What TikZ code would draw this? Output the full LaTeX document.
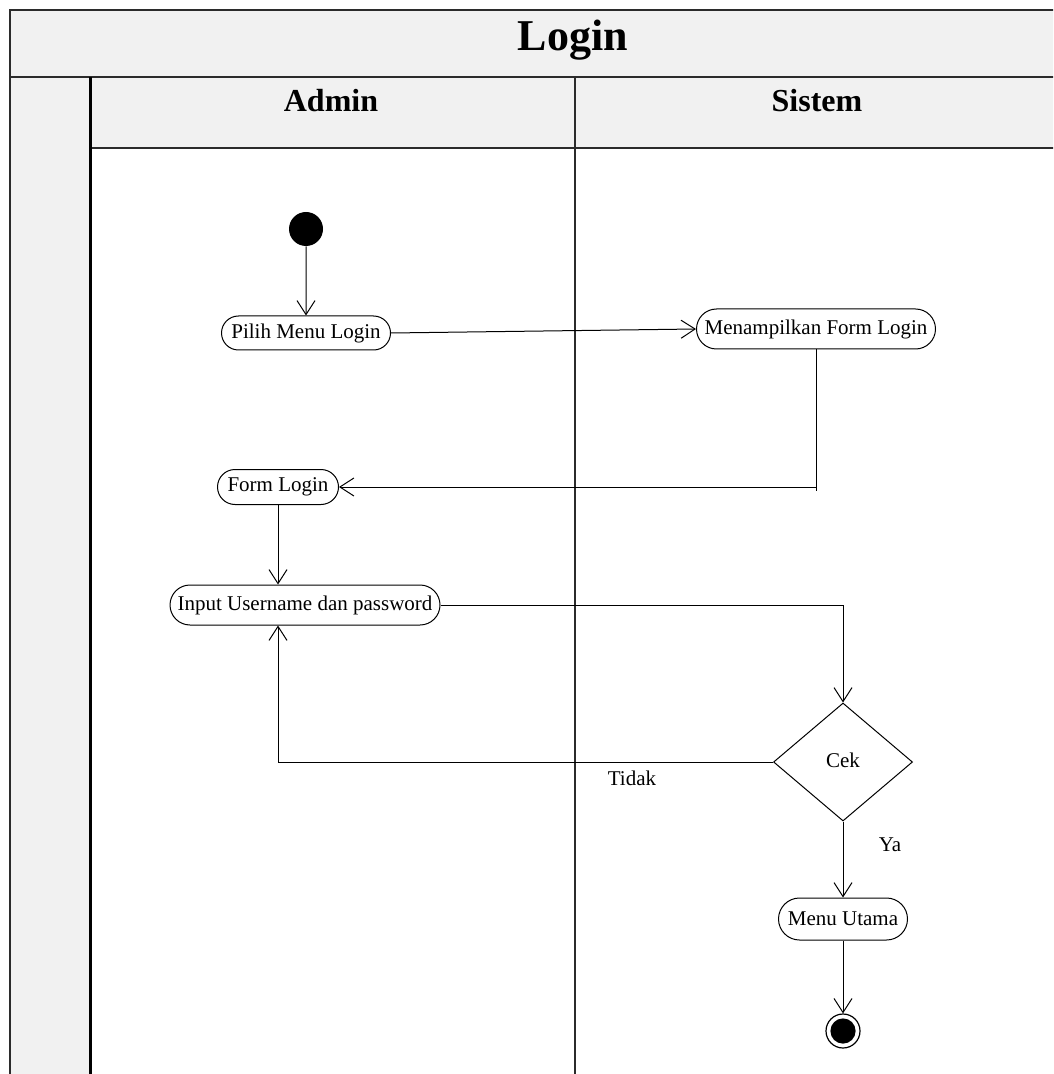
\documentclass[tikz,border=0pt]{standalone}
\usepackage{fontspec}
\setmainfont{Liberation Serif}
\usetikzlibrary{arrows.meta,shapes.misc,shapes.geometric}
\definecolor{lanegray}{HTML}{F1F1F1}
\definecolor{frameline}{HTML}{2B2B2B}
\begin{document}
\begin{tikzpicture}[x=0.5pt,y=-0.5pt,
  act/.style={rounded rectangle, draw, line width=0.5pt, inner sep=0pt,
    fill=white, font=\fontsize{10.5}{12}\selectfont},
  flow/.style={draw, line width=0.5pt, -{Straight Barb[length=7pt,width=9pt]}},
  lbl/.style={font=\fontsize{10.5}{12}\selectfont, inner sep=0pt},
  head/.style={font=\bfseries\fontsize{16}{19}\selectfont, inner sep=0pt},
  frame/.style={draw=frameline, line width=1pt}]
\useasboundingbox (0,0) rectangle (1053,1074);
\clip (0,0) rectangle (1053,1074);

% swimlane frame
\fill[lanegray] (10,10) rectangle (1070,77);
\fill[lanegray] (10,77) rectangle (90,1090);
\fill[lanegray] (90,77) rectangle (1070,148);
\draw[frame] (1070,10) -- (10,10) -- (10,1090);
\draw[frame] (10,77) -- (1070,77);
\draw[frame] (90,148) -- (1070,148);
\draw[black, line width=1.5pt] (90,77) -- (90,1090);
\draw[frameline, line width=1.4pt] (575,77) -- (575,1090);

\node[font=\bfseries\fontsize{22}{26}\selectfont, inner sep=0pt] (title) at (573,40) {Login};
\node[head] (admin) at (331,101) {Admin};
\node[head] (sistem) at (817,101) {Sistem};

% activities
\node[circle, fill=black, minimum size=17pt, inner sep=0pt] (start) at (306,229) {};
\node[act, minimum width=84.5pt, minimum height=17pt] (pilih) at (306,333) {Pilih Menu Login};
\node[act, minimum width=119.5pt, minimum height=20pt] (tampil) at (816,329) {Menampilkan Form Login};
\node[act, minimum width=60.5pt, minimum height=17.5pt] (form) at (278,487) {Form Login};
\node[act, minimum width=135pt, minimum height=20pt] (input) at (305,605) {Input Username dan password};
\node[diamond, draw, line width=0.5pt, fill=white, minimum width=69.5pt, minimum height=59pt,
  inner sep=0pt, font=\fontsize{10.5}{12}\selectfont] (cek) at (843,762) {\raisebox{2pt}{Cek}};
\node[act, minimum width=64.5pt, minimum height=21pt] (menu) at (843,919) {Menu Utama};
\node[circle, draw, line width=0.6pt, minimum size=17pt, inner sep=0pt,
  path picture={\fill (path picture bounding box.center) circle (6.3pt);}] (end) at (843,1031) {};

% flows
\draw[flow] (start) -- (pilih);
\draw[flow] (pilih.east) -- (tampil.west);
\draw[flow] (tampil.south) |- (form.east);
\draw[line width=0.5pt] (tampil.south |- form.east) -- ++(0,4);
\draw[flow] (form.south) -- (form.south |- input.north);
\draw[flow] (input.east) -| (cek.north);
\draw[flow] (cek.west) -| (form.south |- input.south);
\draw[flow] (cek.south) -- (menu.north);
\draw[flow] (menu.south) -- (end.north);

\node[lbl] (tidak) at (632,778) {Tidak};
\node[lbl] (ya) at (890,845) {Ya};
\end{tikzpicture}
\end{document}
